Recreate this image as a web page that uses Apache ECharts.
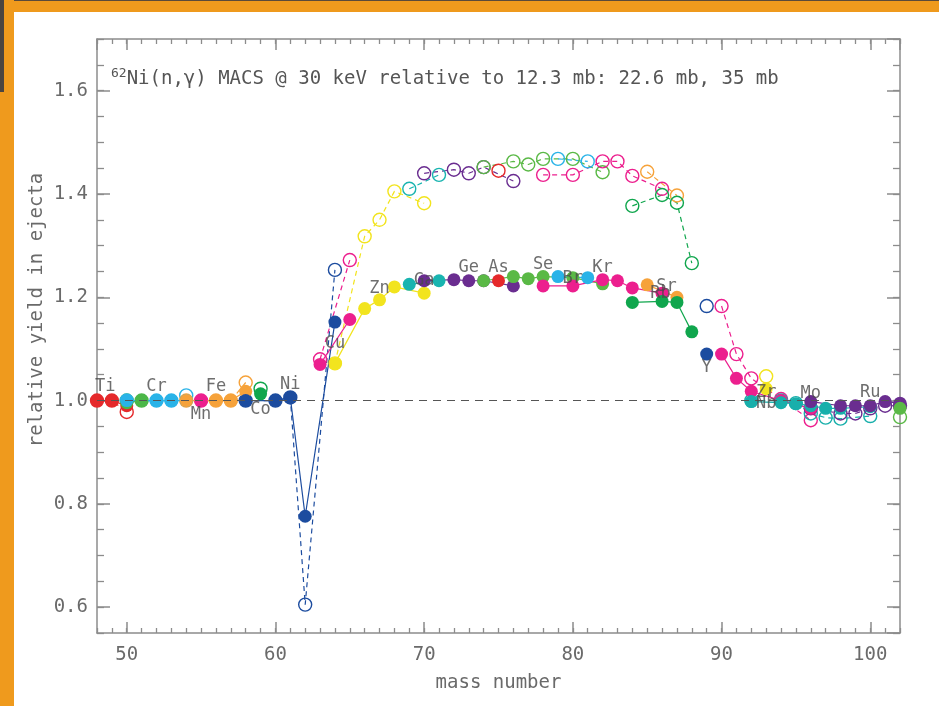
<!DOCTYPE html>
<html>
<head>
<meta charset="utf-8">
<script src="https://cdn.jsdelivr.net/npm/echarts@6/dist/echarts.min.js"></script>
<style>
  html, body { margin: 0; padding: 0; background: #fff; }
  #wrap { position: relative; width: 939px; height: 706px; overflow: hidden; background: #fff; }
  #chart { position: absolute; left: 0; top: 0; width: 939px; height: 706px; }
  .fr { position: absolute; pointer-events: none; }
</style>
</head>
<body>
<div id="wrap">
  <div id="chart"></div>
  <div class="fr" style="left:0;top:0;width:939px;height:12px;background:#ef9a1d;border-top:1px solid #5a4a3a;box-sizing:border-box;"></div>
  <div class="fr" style="left:0;top:0;width:14px;height:706px;background:#ef9a1d;"></div>
  <div class="fr" style="left:0;top:0;width:4px;height:92px;background:#4a4440;"></div>
</div>
<script>
// ---------- data (mass number, yield with 22.6 mb [filled], yield with 35 mb [open]) ----------
const Ti_A = [48, 49, 50];            const Ti_fill = [1.000, 1.000, 0.990];            const Ti_open = [1.000, 1.000, 0.978];
const V_A  = [50, 51];                const V_fill  = [0.996, 1.000];                   const V_open  = [1.000, 1.000];
const Cr_A = [50, 52, 53, 54];        const Cr_fill = [1.000, 1.000, 1.000, 1.000];     const Cr_open = [1.000, 1.000, 1.000, 1.010];
const Mn_A = [55];                    const Mn_fill = [1.000];                          const Mn_open = [1.000];
const Fe_A = [54, 56, 57, 58];        const Fe_fill = [1.000, 1.000, 1.000, 1.018];     const Fe_open = [1.000, 1.000, 1.000, 1.035];
const Co_A = [59];                    const Co_fill = [1.013];                          const Co_open = [1.023];
const Ni_A = [58, 60, 61, 62, 64];    const Ni_fill = [1.000, 1.000, 1.006, 0.776, 1.152]; const Ni_open = [1.000, 1.000, 1.006, 0.605, 1.253];
const Cu_A = [63, 65];                const Cu_fill = [1.070, 1.157];                   const Cu_open = [1.080, 1.272];
const Zn_A = [64, 66, 67, 68, 70];    const Zn_fill = [1.072, 1.178, 1.195, 1.220, 1.208]; const Zn_open = [1.072, 1.318, 1.350, 1.405, 1.382];
const Ga_A = [69, 71];                const Ga_fill = [1.225, 1.232];                   const Ga_open = [1.410, 1.437];
const Ge_A = [70, 72, 73, 74, 76];    const Ge_fill = [1.232, 1.234, 1.232, 1.232, 1.222]; const Ge_open = [1.440, 1.447, 1.440, 1.452, 1.425];
const As_A = [75];                    const As_fill = [1.232];                          const As_open = [1.445];
const Se_A = [74, 76, 77, 78, 80, 82]; const Se_fill = [1.232, 1.240, 1.236, 1.240, 1.238, 1.226]; const Se_open = [1.452, 1.463, 1.457, 1.468, 1.468, 1.442];
const Br_A = [79, 81];                const Br_fill = [1.240, 1.238];                   const Br_open = [1.468, 1.463];
const Kr_A = [78, 80, 82, 83, 84, 86]; const Kr_fill = [1.222, 1.222, 1.234, 1.232, 1.218, 1.208]; const Kr_open = [1.437, 1.437, 1.463, 1.463, 1.435, 1.410];
const Rb_A = [85, 87];                const Rb_fill = [1.224, 1.200];                   const Rb_open = [1.443, 1.397];
const Sr_A = [84, 86, 87, 88];        const Sr_fill = [1.190, 1.192, 1.190, 1.133];     const Sr_open = [1.377, 1.398, 1.383, 1.266];
const Y_A  = [89];                    const Y_fill  = [1.090];                          const Y_open  = [1.183];
const Zr_A = [90, 91, 92, 94, 96];    const Zr_fill = [1.090, 1.043, 1.018, 1.000, 0.985]; const Zr_open = [1.183, 1.090, 1.043, 1.003, 0.962];
const Nb_A = [93];                    const Nb_fill = [1.023];                          const Nb_open = [1.047];
const Mo_A = [92, 94, 95, 96, 97, 98, 100]; const Mo_fill = [0.998, 0.996, 0.994, 0.990, 0.985, 0.985, 0.988]; const Mo_open = [1.000, 1.000, 0.995, 0.975, 0.967, 0.965, 0.970];
const Ru_A = [96, 98, 99, 100, 101, 102]; const Ru_fill = [0.998, 0.990, 0.990, 0.990, 0.998, 0.995]; const Ru_open = [0.985, 0.975, 0.975, 0.985, 0.990, 0.990];
const Pd_A = [102];                   const Pd_fill = [0.985];                          const Pd_open = [0.968];

const elementNames = ['Ti','V','Cr','Mn','Fe','Co','Ni','Cu','Zn','Ga','Ge','As','Se','Br','Kr','Rb','Sr','Y','Zr','Nb','Mo','Ru','Pd'];
const elementMass  = [Ti_A, V_A, Cr_A, Mn_A, Fe_A, Co_A, Ni_A, Cu_A, Zn_A, Ga_A, Ge_A, As_A, Se_A, Br_A, Kr_A, Rb_A, Sr_A, Y_A, Zr_A, Nb_A, Mo_A, Ru_A, Pd_A];
const elementFill  = [Ti_fill, V_fill, Cr_fill, Mn_fill, Fe_fill, Co_fill, Ni_fill, Cu_fill, Zn_fill, Ga_fill, Ge_fill, As_fill, Se_fill, Br_fill, Kr_fill, Rb_fill, Sr_fill, Y_fill, Zr_fill, Nb_fill, Mo_fill, Ru_fill, Pd_fill];
const elementOpen  = [Ti_open, V_open, Cr_open, Mn_open, Fe_open, Co_open, Ni_open, Cu_open, Zn_open, Ga_open, Ge_open, As_open, Se_open, Br_open, Kr_open, Rb_open, Sr_open, Y_open, Zr_open, Nb_open, Mo_open, Ru_open, Pd_open];

// element label annotations (name, mass number, yield)
const labelNames = ['Ti','Cr','Mn','Fe','Co','Ni','Cu','Zn','Ga','Ge','As','Se','Br','Kr','Rb','Sr','Y','Zr','Nb','Mo','Ru'];
const labelMass  = [48.55, 52, 55, 56, 59, 61, 64, 67, 70, 73, 75, 78, 80, 82, 85.9, 86.3, 89, 93, 93, 96, 100];
const labelYield = [1.027, 1.027, 0.972, 1.027, 0.983, 1.030, 1.110, 1.217, 1.232, 1.257, 1.257, 1.263, 1.237, 1.258, 1.207, 1.220, 1.063, 1.015, 0.995, 1.013, 1.016];

const xTicks = [50, 60, 70, 80, 90, 100];
const yTicks = [0.6, 0.8, 1.0, 1.2, 1.4, 1.6];

// ---------- styles ----------
const palette = {
  Ti:'#e5292b', V:'#4cb748', Cr:'#29b3e8', Mn:'#ec1f8e', Fe:'#f6a23a', Co:'#10a64d', Ni:'#1c4c9f',
  Cu:'#ec1f8e', Zn:'#f2e41e', Ga:'#19b4b0', Ge:'#6a2d90', As:'#e5292b', Se:'#5ab946', Br:'#29b3e8',
  Kr:'#ec1f8e', Rb:'#f6a23a', Sr:'#10a64d', Y:'#1c4c9f', Zr:'#ec1f8e', Nb:'#f2e41e', Mo:'#18afab',
  Ru:'#6a2d90', Pd:'#5ab946'
};
const FONT = 'DejaVu Sans Mono';
const AX = '#8c8c8c';
const TXT = '#6a6a6a';

const series = [];
// open circles, dashed lines (35 mb)
elementNames.forEach((el, i) => {
  const c = palette[el];
  const s = {
    type: 'line', name: el + ' open', xAxisIndex: 0, yAxisIndex: 0,
    data: elementMass[i].map((a, j) => [a, elementOpen[i][j]]),
    symbol: 'circle', symbolSize: 13,
    itemStyle: { color: 'rgba(255,255,255,0)', borderColor: c, borderWidth: 1.4 },
    lineStyle: { color: c, width: 1.2, type: [5, 4] },
    emphasis: { disabled: true }, animation: false, clip: true, z: 2
  };
  if (i === 0) {
    s.markLine = {
      silent: true, symbol: 'none', animation: false,
      label: { show: false },
      lineStyle: { color: '#555', width: 1.2, type: [8, 6] },
      data: [{ yAxis: 1 }]
    };
  }
  series.push(s);
});
// filled circles, solid lines (22.6 mb)
elementNames.forEach((el, i) => {
  const c = palette[el];
  series.push({
    type: 'line', name: el + ' filled', xAxisIndex: 0, yAxisIndex: 0,
    data: elementMass[i].map((a, j) => [a, elementFill[i][j]]),
    symbol: 'circle', symbolSize: 13,
    itemStyle: { color: c, borderColor: c, borderWidth: 0 },
    lineStyle: { color: c, width: 1.2, type: 'solid' },
    emphasis: { disabled: true }, animation: false, clip: true, z: 3
  });
});
// element labels
series.push({
  type: 'scatter', name: 'labels', xAxisIndex: 0, yAxisIndex: 0,
  data: labelNames.map((n, i) => ({ value: [labelMass[i], labelYield[i]], name: n })),
  symbolSize: 0, silent: true, animation: false, z: 5,
  label: { show: true, position: 'inside', formatter: p => p.name,
           fontFamily: FONT, fontSize: 17, color: '#4a4a4a' }
});

function mainAxis(pos, isX, showLabel) {
  return {
    type: 'value', position: pos,
    min: isX ? 48 : 0.55, max: isX ? 102 : 1.7,
    splitNumber: isX ? 5 : 6,
    axisLine: { show: true, onZero: false, lineStyle: { color: AX, width: 1.5 } },
    axisTick: { show: true, inside: true, length: isX ? 11 : 13, lineStyle: { color: AX, width: 1.5 } },
    axisLabel: { show: showLabel, showMinLabel: false, showMaxLabel: false, fontFamily: FONT, fontSize: 19, color: TXT,
                 margin: isX ? 13 : 9,
                 formatter: v => {
                   const list = isX ? xTicks : yTicks;
                   const hit = list.find(t => Math.abs(t - v) < 1e-6);
                   return hit === undefined ? '' : (isX ? String(hit) : hit.toFixed(1));
                 } },
    splitLine: { show: false }
  };
}
function minorAxis(pos, isX) {
  return {
    type: 'value', position: pos,
    min: isX ? 48 : 0.55, max: isX ? 102 : 1.7,
    interval: isX ? 1 : 0.05,
    axisLine: { show: false, onZero: false },
    axisTick: { show: true, inside: true, length: isX ? 5 : 7, lineStyle: { color: AX, width: 1.3 } },
    axisLabel: { show: false },
    splitLine: { show: false }
  };
}

const chart = echarts.init(document.getElementById('chart'), null, { renderer: 'canvas' });
chart.setOption({
  backgroundColor: '#fff',
  animation: false,
  grid: { left: 97, top: 39, right: 39, bottom: 73, containLabel: false },
  title: {
    text: '{s|62}{m|Ni(n,γ) MACS @ 30 keV relative to 12.3 mb: 22.6 mb, 35 mb}',
    left: 106, top: 62,
    textStyle: {
      fontWeight: 'normal',
      rich: {
        s: { fontFamily: FONT, fontSize: 13, fontWeight: 'normal', color: '#555', verticalAlign: 'bottom', padding: [0, 0, 9, 0] },
        m: { fontFamily: FONT, fontSize: 19, fontWeight: 'normal', color: '#555', verticalAlign: 'bottom' }
      }
    }
  },
  xAxis: [
    Object.assign(mainAxis('bottom', true, true), { name: 'mass number', nameLocation: 'middle', nameGap: 41,
      nameTextStyle: { fontFamily: FONT, fontSize: 19, color: TXT } }),
    minorAxis('bottom', true),
    mainAxis('top', true, false),
    minorAxis('top', true)
  ],
  yAxis: [
    mainAxis('left', false, true),
    minorAxis('left', false),
    mainAxis('right', false, false),
    minorAxis('right', false)
  ],
  graphic: [{
    type: 'text', x: 37, y: 310, rotation: Math.PI / 2,
    style: { text: 'relative yield in ejecta', fontFamily: FONT, fontSize: 19, fill: TXT,
             align: 'center', verticalAlign: 'middle' }
  }],
  series: series
});
</script>
</body>
</html>
